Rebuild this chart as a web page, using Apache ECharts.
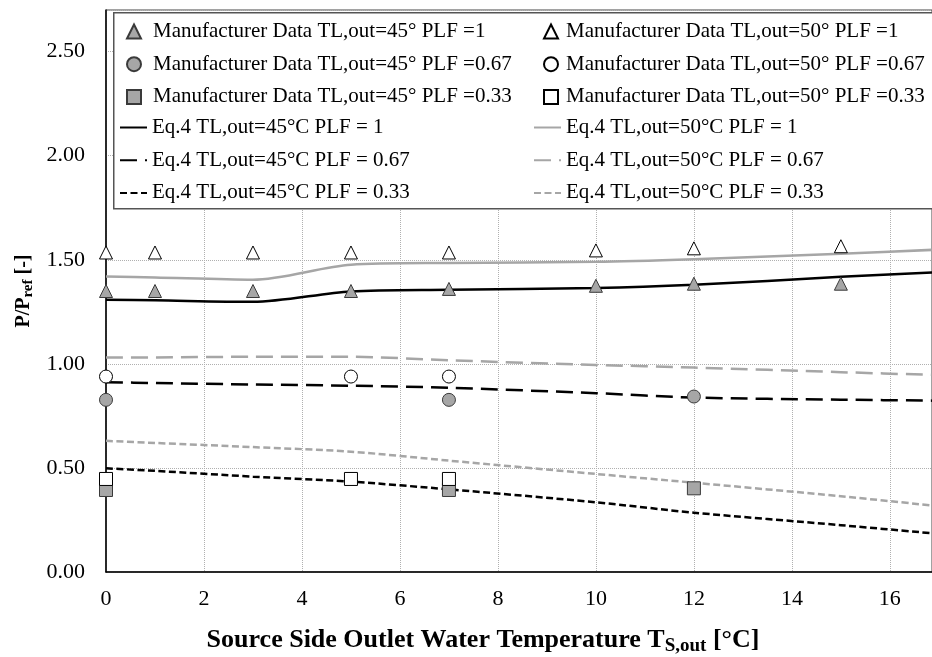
<!DOCTYPE html>
<html>
<head>
<meta charset="utf-8">
<script src="https://cdn.jsdelivr.net/npm/echarts@6/dist/echarts.min.js"></script>
<style>html,body{margin:0;padding:0;background:#fff;}#c{width:932px;height:657px;}</style>
</head>
<body>
<div id="c"></div>
<script>
// ---- data ----
var xTicks = [0, 2, 4, 6, 8, 10, 12, 14, 16];
var yTicks = [0.00, 0.50, 1.00, 1.50, 2.00, 2.50];

var mfX_1 = [0, 1, 3, 5, 7, 10, 12, 15];
var mf45_1 = [1.35, 1.35, 1.35, 1.35, 1.36, 1.375, 1.385, 1.385];
var mf50_1 = [1.535, 1.535, 1.535, 1.535, 1.535, 1.545, 1.555, 1.565];

var mfX45_067 = [0, 7, 12];
var mf45_067 = [0.827, 0.827, 0.843];
var mfX50_067 = [0, 5, 7];
var mf50_067 = [0.939, 0.939, 0.939];

var mfX45_033 = [0, 7, 12];
var mf45_033 = [0.394, 0.394, 0.402];
var mfX50_033 = [0, 5, 7];
var mf50_033 = [0.447, 0.447, 0.447];

var eqX = [0, 1, 3, 5, 7, 10, 12, 15, 17];
var eq45_1   = [1.308, 1.305, 1.298, 1.348, 1.356, 1.364, 1.380, 1.418, 1.440];
var eq50_1   = [1.420, 1.415, 1.404, 1.476, 1.485, 1.490, 1.503, 1.529, 1.549];
var eq45_067 = [0.912, 0.908, 0.901, 0.895, 0.885, 0.859, 0.838, 0.828, 0.823];
var eq50_067 = [1.030, 1.031, 1.034, 1.034, 1.017, 0.995, 0.982, 0.960, 0.946];
var eq45_033 = [0.498, 0.486, 0.458, 0.434, 0.397, 0.335, 0.285, 0.225, 0.183];
var eq50_033 = [0.630, 0.620, 0.600, 0.578, 0.535, 0.471, 0.429, 0.364, 0.316];

var names = {
  m45_1: 'Manufacturer Data TL,out=45° PLF =1',
  m45_067: 'Manufacturer Data TL,out=45° PLF =0.67',
  m45_033: 'Manufacturer Data TL,out=45° PLF =0.33',
  e45_1: 'Eq.4 TL,out=45°C PLF = 1',
  e45_067: 'Eq.4 TL,out=45°C PLF = 0.67',
  e45_033: 'Eq.4 TL,out=45°C PLF = 0.33',
  m50_1: 'Manufacturer Data TL,out=50° PLF =1',
  m50_067: 'Manufacturer Data TL,out=50° PLF =0.67',
  m50_033: 'Manufacturer Data TL,out=50° PLF =0.33',
  e50_1: 'Eq.4 TL,out=50°C PLF = 1',
  e50_067: 'Eq.4 TL,out=50°C PLF = 0.67',
  e50_033: 'Eq.4 TL,out=50°C PLF = 0.33'
};

function zip(xs, ys) { return xs.map(function (x, i) { return [x, ys[i]]; }); }

var FONT = '"Liberation Serif", "Times New Roman", serif';
var GRAY = '#a6a6a6';
var LONG = [17, 8];
var SHORT = [7, 3.5];

function scatter(name, xs, ys, symbol, fill) {
  return {
    name: name, type: 'scatter', data: zip(xs, ys), symbol: symbol, symbolSize: 13,
    itemStyle: { color: fill, borderColor: fill === '#ffffff' ? '#000' : '#3a3a3a', borderWidth: 1, opacity: 1 },
    z: 5
  };
}
function line(name, ys, color, dash) {
  return {
    name: name, type: 'line', data: zip(eqX, ys), showSymbol: false, symbol: 'none',
    smooth: 0.3,
    lineStyle: { color: color, width: 2.5, type: dash },
    itemStyle: { color: color },
    z: 3
  };
}

var series = [
  scatter(names.m45_1, mfX_1, mf45_1, 'triangle', GRAY),
  scatter(names.m45_067, mfX45_067, mf45_067, 'circle', GRAY),
  scatter(names.m45_033, mfX45_033, mf45_033, 'rect', GRAY),
  line(names.e45_1, eq45_1, '#000', 'solid'),
  line(names.e45_067, eq45_067, '#000', LONG),
  line(names.e45_033, eq45_033, '#000', SHORT),
  scatter(names.m50_1, mfX_1, mf50_1, 'triangle', '#ffffff'),
  scatter(names.m50_067, mfX50_067, mf50_067, 'circle', '#ffffff'),
  scatter(names.m50_033, mfX50_033, mf50_033, 'rect', '#ffffff'),
  line(names.e50_1, eq50_1, GRAY, 'solid'),
  line(names.e50_067, eq50_067, GRAY, LONG),
  line(names.e50_033, eq50_033, GRAY, SHORT)
];

function legendTextStyle(padLeft) {
  return { fontFamily: FONT, fontSize: 21, color: '#000', lineHeight: 20, padding: [0, 0, 0, padLeft] };
}
function lineItems(list) {
  return list.map(function (n) {
    return { name: n, itemStyle: { color: 'rgba(0,0,0,0)', borderColor: 'rgba(0,0,0,0)', borderWidth: 0, opacity: 0 } };
  });
}
function legend(left, top, w, pad, data) {
  return {
    left: left, top: top, orient: 'vertical', padding: 0, itemWidth: w, itemHeight: 14, itemGap: 11.7,
    textStyle: legendTextStyle(pad), selectedMode: false, z: 4, data: data
  };
}

var option = {
  animation: false,
  backgroundColor: '#fff',
  grid: { left: 106, top: 10, right: 0, bottom: 85, show: true, borderColor: '#444', borderWidth: 1,
          containLabel: false, outerBoundsMode: 'none' },
  graphic: [{
    type: 'rect', left: 113, top: 12, z: 3,
    shape: { x: 0, y: 0, width: 830, height: 196 },
    style: { fill: '#fff', stroke: '#555', lineWidth: 1.5 }
  }],
  legend: [
    legend(126, 21, 14, 7, [names.m45_1, names.m45_067, names.m45_033]),
    legend(119, 117, 27, 0, lineItems([names.e45_1, names.e45_067, names.e45_033])),
    legend(543, 21, 14, 3, [names.m50_1, names.m50_067, names.m50_033]),
    legend(533, 117, 27, 0, lineItems([names.e50_1, names.e50_067, names.e50_033]))
  ],
  xAxis: {
    type: 'value', min: xTicks[0], max: 16.86, interval: 2,
    name: 'Source Side Outlet Water Temperature T{sub|S,out} [°C]',
    nameLocation: 'middle', nameGap: 52,
    nameTextStyle: {
      fontFamily: FONT, fontSize: 26, fontWeight: 'bold', color: '#000', lineHeight: 32,
      padding: [0, 72, 0, 0],
      rich: { sub: { fontFamily: FONT, fontSize: 19, fontWeight: 'bold', color: '#000', lineHeight: 14, verticalAlign: 'bottom' } }
    },
    axisLine: { show: true, onZero: false, lineStyle: { color: '#000', width: 1.5 } },
    axisTick: { show: false },
    axisLabel: { fontFamily: FONT, fontSize: 22, color: '#000', margin: 16, showMaxLabel: false },
    splitLine: { show: true, lineStyle: { color: '#b0b0b0', width: 1, type: 'dotted' } }
  },
  yAxis: {
    type: 'value', min: yTicks[0], max: 2.7, interval: 0.5,
    name: 'P/P{sub|ref} [-]',
    nameLocation: 'middle', nameGap: 66,
    nameTextStyle: {
      fontFamily: FONT, fontSize: 20, fontWeight: 'bold', color: '#000', lineHeight: 24,
      rich: { sub: { fontFamily: FONT, fontSize: 15, fontWeight: 'bold', color: '#000', lineHeight: 10, verticalAlign: 'bottom' } }
    },
    axisLine: { show: true, onZero: false, lineStyle: { color: '#000', width: 1.5 } },
    axisTick: { show: false },
    axisLabel: {
      fontFamily: FONT, fontSize: 22, color: '#000', margin: 21, showMaxLabel: false,
      formatter: function (v) { return v.toFixed(2); }
    },
    splitLine: { show: true, lineStyle: { color: '#b0b0b0', width: 1, type: 'dotted' } }
  },
  series: series
};

var chart = echarts.init(document.getElementById('c'), null, { renderer: 'canvas' });
chart.setOption(option);
</script>
</body>
</html>
